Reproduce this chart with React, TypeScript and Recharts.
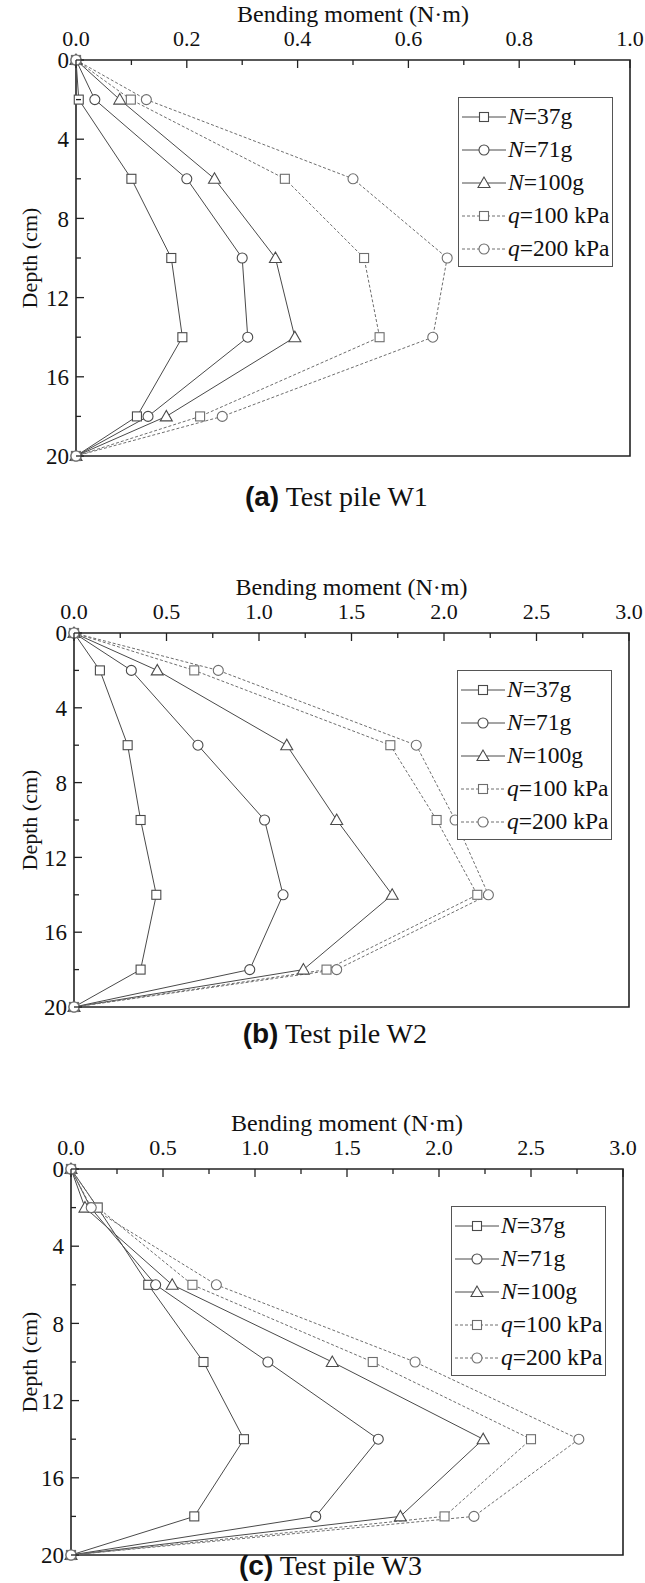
import React from 'react';
import { LineChart, Line, XAxis, YAxis, Legend, ReferenceArea } from 'recharts';

// depth of the strain gauges along the pile (cm)
const depths = [0, 2, 6, 10, 14, 18, 20];
const depthTicks = [0, 2, 4, 6, 8, 10, 12, 14, 16, 18, 20];

// legend / series labels
const seriesLetters = ['N', 'N', 'N', 'q', 'q'];
const seriesSuffix = ['=37g', '=71g', '=100g', '=100 kPa', '=200 kPa'];
const seriesMarkers = ['square', 'circle', 'triangle', 'square', 'circle'];
const seriesDashed = [false, false, false, true, true];

// (a) Test pile W1, bending moment (N·m)
const w1N37 = [0, 0.005, 0.1, 0.172, 0.192, 0.11, 0];
const w1N71 = [0, 0.034, 0.2, 0.3, 0.31, 0.13, 0];
const w1N100 = [0, 0.079, 0.25, 0.36, 0.395, 0.163, 0];
const w1Q100 = [0, 0.099, 0.377, 0.52, 0.548, 0.224, 0];
const w1Q200 = [0, 0.127, 0.5, 0.67, 0.644, 0.264, 0];
const w1Ticks = [0, 0.1, 0.2, 0.3, 0.4, 0.5, 0.6, 0.7, 0.8, 0.9, 1.0];

// (b) Test pile W2
const w2N37 = [0, 0.14, 0.29, 0.36, 0.445, 0.36, 0];
const w2N71 = [0, 0.31, 0.67, 1.03, 1.13, 0.95, 0];
const w2N100 = [0, 0.45, 1.15, 1.42, 1.72, 1.24, 0];
const w2Q100 = [0, 0.65, 1.71, 1.96, 2.18, 1.365, 0];
const w2Q200 = [0, 0.78, 1.85, 2.06, 2.24, 1.42, 0];

// (c) Test pile W3
const w3N37 = [0, 0.145, 0.42, 0.72, 0.94, 0.67, 0];
const w3N71 = [0, 0.106, 0.46, 1.07, 1.67, 1.33, 0];
const w3N100 = [0, 0.076, 0.55, 1.42, 2.24, 1.79, 0];
const w3Q100 = [0, 0.145, 0.66, 1.64, 2.5, 2.03, 0];
const w3Q200 = [0, 0.11, 0.79, 1.87, 2.76, 2.19, 0];

const w23Ticks = [0, 0.25, 0.5, 0.75, 1.0, 1.25, 1.5, 1.75, 2.0, 2.25, 2.5, 2.75, 3.0];

const SERIF = "'Liberation Serif', 'Times New Roman', serif";
const SOLID = '#4a4a4a';
const DASHED = '#6e6e6e';
const X_MARGIN = 14;
const Y_MARGIN = 7;

const buildRows = (series: number[][]) =>
  depths.map((d, i) => {
    const row: any = { depth: d };
    series.forEach((s, k) => (row['s' + k] = s[i]));
    return row;
  });

const Marker = ({ shape, cx, cy, color }: any) => {
  if (shape === 'square')
    return <rect x={cx - 4.5} y={cy - 4.5} width={9} height={9} fill="#fff" stroke={color} strokeWidth={1.1} />;
  if (shape === 'circle') return <circle cx={cx} cy={cy} r={5} fill="#fff" stroke={color} strokeWidth={1.1} />;
  return (
    <polygon
      points={`${cx},${cy - 6} ${cx - 6},${cy + 4.5} ${cx + 6},${cy + 4.5}`}
      fill="#fff"
      stroke={color}
      strokeWidth={1.1}
    />
  );
};

const renderLegend = () => (
  <div
    style={{
      border: '1.2px solid #555',
      background: '#fff',
      width: 155,
      height: 170,
      boxSizing: 'border-box',
      padding: '2px 0 0 3px',
    }}
  >
    {seriesLetters.map((l, i) => {
      const color = seriesDashed[i] ? DASHED : SOLID;
      return (
        <div key={i} style={{ display: 'flex', alignItems: 'center', height: 33 }}>
          <svg width={44} height={16} style={{ flexShrink: 0 }}>
            <line
              x1={0}
              x2={44}
              y1={8}
              y2={8}
              stroke={color}
              strokeWidth={1}
              strokeDasharray={seriesDashed[i] ? '3 2' : undefined}
            />
            <Marker shape={seriesMarkers[i]} cx={22} cy={8} color={color} />
          </svg>
          <span style={{ fontFamily: SERIF, fontSize: 23.5, color: '#111', marginLeft: 2, whiteSpace: 'nowrap' }}>
            <i>{l}</i>
            {seriesSuffix[i]}
          </span>
        </div>
      );
    })}
  </div>
);

type PileProps = {
  top: number;
  plotTop: number;
  plotBottom: number;
  plotLeft: number;
  plotRight: number;
  series: number[][];
  xMax: number;
  xTicks: number[];
  majorStep: number;
  tag: string;
  caption: string;
  captionY: number;
};

const PileChart: React.FC<PileProps> = (p) => {
  const data = buildRows(p.series);
  const xAxisH = p.plotTop - p.top;
  const height = p.plotBottom - p.top + 14;
  const plotW = p.plotRight - p.plotLeft;

  const xTick = (t: any) => {
    const v = t.payload.value;
    const major = Math.abs(v / p.majorStep - Math.round(v / p.majorStep)) < 1e-6;
    const axisY = t.y + X_MARGIN;
    return (
      <g>
        <line x1={t.x} x2={t.x} y1={axisY} y2={axisY + (major ? 8 : 5)} stroke="#222" strokeWidth={1.3} />
        {major && (
          <text x={t.x} y={t.y} textAnchor="middle" fontFamily={SERIF} fontSize={22} fill="#111">
            {v.toFixed(1)}
          </text>
        )}
      </g>
    );
  };

  const yTick = (t: any) => {
    const v = t.payload.value;
    const major = v % 4 === 0;
    const axisX = t.x + Y_MARGIN;
    return (
      <g>
        <line x1={axisX} x2={axisX + (major ? 8 : 5)} y1={t.y} y2={t.y} stroke="#222" strokeWidth={1.3} />
        {major && (
          <text x={t.x} y={t.y} dy="0.36em" textAnchor="end" fontFamily={SERIF} fontSize={23} fill="#111">
            {v}
          </text>
        )}
      </g>
    );
  };

  return (
    <>
      <div style={{ position: 'absolute', left: 0, top: p.top }}>
        <LineChart
          layout="vertical"
          width={645}
          height={height}
          data={data}
          margin={{ top: 0, left: 0, right: 645 - p.plotRight, bottom: height - (p.plotBottom - p.top) }}
        >
          <XAxis
            type="number"
            orientation="top"
            domain={[0, p.xMax]}
            ticks={p.xTicks}
            interval={0}
            height={xAxisH}
            axisLine={false}
            tickLine={false}
            tickSize={0}
            tickMargin={X_MARGIN}
            tick={xTick}
            label={{
              value: 'Bending moment (N·m)',
              position: 'insideTop',
              offset: 5,
              fill: '#111',
              style: { fontFamily: SERIF, fontSize: 24 },
            }}
          />
          <YAxis
            type="number"
            dataKey="depth"
            domain={[0, 20]}
            ticks={depthTicks}
            interval={0}
            width={p.plotLeft}
            axisLine={false}
            tickLine={false}
            tickSize={0}
            tickMargin={Y_MARGIN}
            tick={yTick}
            label={{
              value: 'Depth (cm)',
              angle: -90,
              position: 'insideLeft',
              offset: 29,
              fill: '#111',
              style: { textAnchor: 'middle', fontFamily: SERIF, fontSize: 22 },
            }}
          />
          <ReferenceArea
            x1={0}
            x2={p.xMax}
            y1={0}
            y2={20}
            fill="none"
            fillOpacity={0}
            stroke="#222"
            strokeWidth={1.6}
            ifOverflow="visible"
          />
          {p.series.map((_, k) => {
            const color = seriesDashed[k] ? DASHED : SOLID;
            return (
              <Line
                key={k}
                dataKey={'s' + k}
                name={seriesLetters[k] + seriesSuffix[k]}
                stroke={color}
                strokeWidth={1}
                strokeDasharray={seriesDashed[k] ? '3 2' : undefined}
                isAnimationActive={false}
                dot={(d: any) => (
                  <g key={'d' + k + '-' + d.index}>
                    <Marker shape={seriesMarkers[k]} cx={d.cx} cy={d.cy} color={color} />
                  </g>
                )}
                activeDot={false}
              />
            );
          })}
          <Legend
            layout="vertical"
            align="center"
            verticalAlign="middle"
            wrapperStyle={{
              left: p.plotRight - 17 - 155,
              top: xAxisH + 37,
              width: 'auto',
            }}
            content={renderLegend}
          />
        </LineChart>
      </div>
      <div
        style={{
          position: 'absolute',
          left: 0,
          width: 2 * (p.plotLeft + plotW * 0.47),
          top: p.captionY - 17,
          height: 34,
          lineHeight: '34px',
          textAlign: 'center',
          fontSize: 28,
          color: '#111',
          whiteSpace: 'nowrap',
        }}
      >
        <span style={{ fontFamily: "'Liberation Sans Narrow', 'Liberation Sans', Arial, sans-serif", fontWeight: 'bold' }}>
          {p.tag}
        </span>
        <span style={{ fontFamily: SERIF }}> {p.caption}</span>
      </div>
    </>
  );
};

const App: React.FC = () => (
  <div style={{ position: 'absolute', left: 0, top: 0, width: 645, height: 1583, background: '#fff', overflow: 'hidden' }}>
    <PileChart
      top={0}
      plotTop={60}
      plotBottom={456}
      plotLeft={76}
      plotRight={630}
      series={[w1N37, w1N71, w1N100, w1Q100, w1Q200]}
      xMax={1}
      xTicks={w1Ticks}
      majorStep={0.2}
      tag="(a)"
      caption="Test pile W1"
      captionY={497}
    />
    <PileChart
      top={573}
      plotTop={633}
      plotBottom={1007}
      plotLeft={74}
      plotRight={629}
      series={[w2N37, w2N71, w2N100, w2Q100, w2Q200]}
      xMax={3}
      xTicks={w23Ticks}
      majorStep={0.5}
      tag="(b)"
      caption="Test pile W2"
      captionY={1034}
    />
    <PileChart
      top={1109}
      plotTop={1169}
      plotBottom={1555}
      plotLeft={71}
      plotRight={623}
      series={[w3N37, w3N71, w3N100, w3Q100, w3Q200]}
      xMax={3}
      xTicks={w23Ticks}
      majorStep={0.5}
      tag="(c)"
      caption="Test pile W3"
      captionY={1566}
    />
  </div>
);

export default App;
